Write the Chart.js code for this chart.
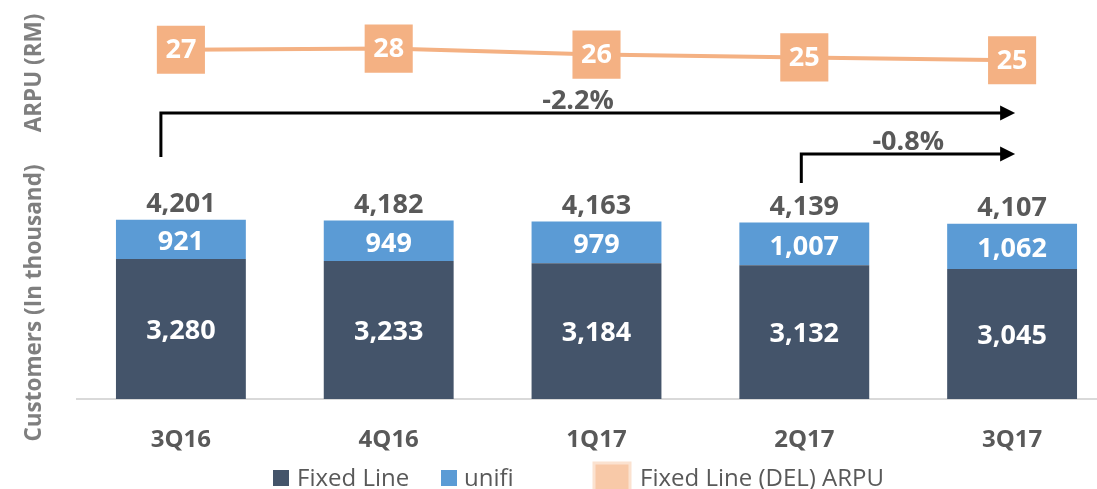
<!DOCTYPE html>
<html>
<head>
<meta charset="utf-8">
<script src="https://cdn.jsdelivr.net/npm/chart.js@4.4.1/dist/chart.umd.min.js"></script>
<style>
  html, body { margin: 0; padding: 0; background: #fff; overflow: hidden; }
  #wrap { width: 1120px; height: 489px; }
</style>
</head>
<body>
<div id="wrap"><canvas id="chart" width="1120" height="489"></canvas></div>
<script>
const quarters = ["3Q16", "4Q16", "1Q17", "2Q17", "3Q17"];
const fixedLine = [3280, 3233, 3184, 3132, 3045];
const unifi = [921, 949, 979, 1007, 1062];
const totals = [4201, 4182, 4163, 4139, 4107];
const arpu = [27.3, 27.6, 26.1, 25.4, 24.7];
const arpuLabels = ["27", "28", "26", "25", "25"];
const growth = [
  { text: "-2.2%", from: 0, to: 4 },
  { text: "-0.8%", from: 3, to: 4 },
];

const FONT = "'Open Sans', 'DejaVu Sans', sans-serif";
const darkBlue = "#44546a";
const lightBlue = "#5b9bd5";
const peach = "#f4b183";
const grey = "#595959";

const fmt = (n) => n.toLocaleString("en-US");
const dy = 2; // Open Sans sits a little high with textBaseline middle

// labels, arrows, axis titles and legend drawn on top of the chart
const overlay = {
  id: "overlay",
  afterDatasetsDraw(chart) {
    const { ctx, scales } = chart;
    const x = scales.x, y = scales.y, y2 = scales.y2;
    ctx.save();
    ctx.textAlign = "center";
    ctx.textBaseline = "middle";

    // bar segment labels + totals
    quarters.forEach((q, i) => {
      const px = x.getPixelForValue(i);
      ctx.font = "bold 27px " + FONT;
      ctx.fillStyle = "#fff";
      ctx.fillText(fmt(fixedLine[i]), px, (y.getPixelForValue(0) + y.getPixelForValue(fixedLine[i])) / 2 + dy);
      ctx.fillText(fmt(unifi[i]), px, (y.getPixelForValue(fixedLine[i]) + y.getPixelForValue(totals[i])) / 2 + dy + 1);
      ctx.fillStyle = grey;
      ctx.fillText(fmt(totals[i]), px, y.getPixelForValue(totals[i]) - 17 + dy);
      // ARPU values in the square markers
      ctx.fillStyle = "#fff";
      ctx.fillText(arpuLabels[i], px, y2.getPixelForValue(arpu[i]) + 1);
    });

    // growth arrows
    const arrowRows = [
      { yLine: 113, yStart: 157, dx: -20, tdx: -10 },
      { yLine: 154, yStart: 183, dx: -3, tdx: 0 },
    ];
    growth.forEach((g, k) => {
      const r = arrowRows[k];
      const x0 = x.getPixelForValue(g.from) + r.dx;
      const tip = x.getPixelForValue(g.to) + 3;
      ctx.strokeStyle = "#000";
      ctx.lineWidth = 3;
      ctx.beginPath();
      ctx.moveTo(x0, r.yStart);
      ctx.lineTo(x0, r.yLine);
      ctx.lineTo(tip - 12, r.yLine);
      ctx.stroke();
      ctx.fillStyle = "#000";
      ctx.beginPath();
      ctx.moveTo(tip, r.yLine);
      ctx.lineTo(tip - 15, r.yLine - 7.5);
      ctx.lineTo(tip - 15, r.yLine + 7.5);
      ctx.closePath();
      ctx.fill();
      ctx.font = "bold 27px " + FONT;
      ctx.fillStyle = grey;
      ctx.fillText(g.text, (x0 + tip) / 2 + r.tdx, r.yLine - 14 + dy);
    });

    // axis titles
    ctx.fillStyle = "#7f7f7f";
    ctx.font = "bold 22.5px " + FONT;
    [["Customers (In thousand)", 303], ["ARPU (RM)", 73]].forEach(([t, cy]) => {
      ctx.save();
      ctx.translate(35, cy);
      ctx.rotate(-Math.PI / 2);
      ctx.fillText(t, 0, 0);
      ctx.restore();
    });

    // legend
    const ly = 479;
    ctx.textAlign = "left";
    ctx.font = "24px " + FONT;
    ctx.fillStyle = darkBlue;
    ctx.fillRect(273, ly - 9, 16, 16);
    ctx.fillStyle = grey;
    ctx.fillText("Fixed Line", 297, ly);
    ctx.fillStyle = lightBlue;
    ctx.fillRect(441, ly - 9, 16, 16);
    ctx.fillStyle = grey;
    ctx.fillText("unifi", 464, ly);
    ctx.fillStyle = "#f8c9a8";
    ctx.fillRect(594, 463, 36, 36);
    ctx.strokeStyle = "#fbe2d0";
    ctx.lineWidth = 3;
    ctx.strokeRect(594, 463, 36, 36);
    ctx.fillStyle = grey;
    ctx.fillText("Fixed Line (DEL) ARPU", 640, ly);
    ctx.restore();
  },
};

new Chart(document.getElementById("chart"), {
  data: {
    labels: quarters,
    datasets: [
      {
        type: "line",
        label: "Fixed Line (DEL) ARPU",
        data: arpu,
        yAxisID: "y2",
        borderColor: peach,
        backgroundColor: peach,
        borderWidth: 4,
        pointStyle: "rect",
        pointRadius: 34,
        pointBorderWidth: 0,
        clip: false,
        order: 0,
      },
      {
        type: "bar",
        label: "Fixed Line",
        data: fixedLine,
        backgroundColor: darkBlue,
        stack: "s",
        order: 1,
      },
      {
        type: "bar",
        label: "unifi",
        data: unifi,
        backgroundColor: lightBlue,
        stack: "s",
        order: 1,
      },
    ],
  },
  options: {
    responsive: false,
    animation: false,
    layout: { autoPadding: false, padding: { left: 77, right: 4, top: 15, bottom: 30 } },
    datasets: { bar: { categoryPercentage: 1, barPercentage: 0.625 } },
    plugins: { legend: { display: false }, tooltip: { enabled: false } },
    scales: {
      x: {
        stacked: true,
        grid: { display: false },
        border: { display: true, color: "#d9d9d9", width: 2 },
        ticks: { color: grey, font: { family: FONT, size: 24, weight: "bold" }, padding: 19 },
        afterFit: (s) => { s.height = 60; s.paddingLeft = 0; s.paddingRight = 0; },
      },
      y: { stacked: true, display: false, min: 0, max: 9000 },
      y2: { display: false, min: -60, max: 36 },
    },
  },
  plugins: [overlay],
});
</script>
</body>
</html>
